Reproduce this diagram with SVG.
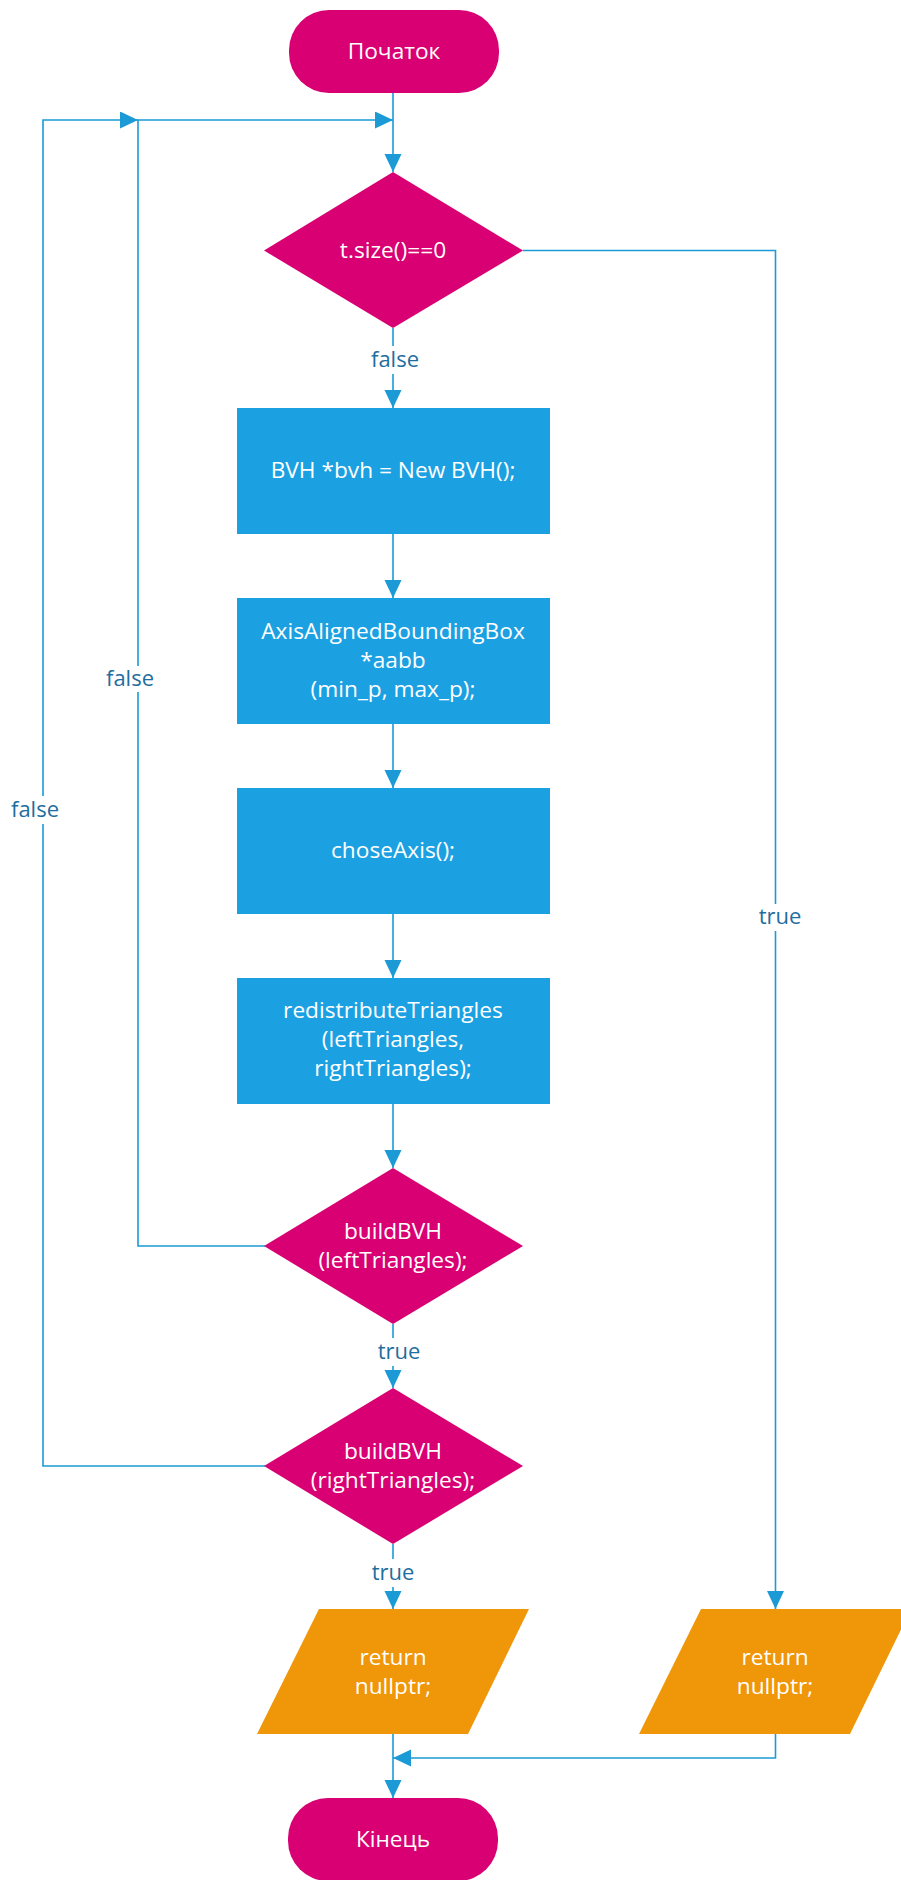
<svg xmlns="http://www.w3.org/2000/svg" width="901" height="1880" viewBox="0 0 901 1880">
<style>
.term{fill:#D80073}
.dec{fill:#D80073}
.proc{fill:#1BA1E2}
.io{fill:#F09609}
.t{font-family:"Open Sans","Noto Sans",sans-serif;font-size:22.7px;fill:#ffffff;text-anchor:middle}
.edge{fill:none;stroke:#1B9AD6;stroke-width:1.6}
.lbl{font-family:"Open Sans","Noto Sans",sans-serif;font-size:22px;fill:#1F6E9E;text-anchor:middle}
.lb{fill:#ffffff}
</style>
<defs>
<marker id="arr" markerUnits="userSpaceOnUse" markerWidth="18" markerHeight="18" refX="18" refY="8.5" orient="auto">
<path d="M0,0 L18,8.5 L0,17 z" fill="#1B9AD6"/>
</marker>
</defs>
<rect width="901" height="1880" fill="#ffffff"/>
<g id="connectors">
<path class="edge" d="M393,93 V172" marker-end="url(#arr)"/>
<path class="edge" d="M393,328 V408" marker-end="url(#arr)"/>
<path class="edge" d="M393,534 V598" marker-end="url(#arr)"/>
<path class="edge" d="M393,724 V788" marker-end="url(#arr)"/>
<path class="edge" d="M393,914 V978" marker-end="url(#arr)"/>
<path class="edge" d="M393,1104 V1168" marker-end="url(#arr)"/>
<path class="edge" d="M393,1324 V1388" marker-end="url(#arr)"/>
<path class="edge" d="M393,1544 V1609" marker-end="url(#arr)"/>
<path class="edge" d="M393,1734 V1798" marker-end="url(#arr)"/>
<path class="edge" d="M523,250.5 H775.5 V1609" marker-end="url(#arr)"/>
<path class="edge" d="M265,1246 H138 V120 H393" marker-end="url(#arr)"/>
<path class="edge" d="M265,1466 H43 V120 H138" marker-end="url(#arr)"/>
<path class="edge" d="M775.5,1734 V1758 H393" marker-end="url(#arr)"/>
<rect class="lb" x="369" y="346" width="52" height="28"/>
<text class="lbl" x="395" y="367">false</text>
<rect class="lb" x="104" y="666" width="52" height="26"/>
<text class="lbl" x="130" y="686">false</text>
<rect class="lb" x="9" y="796" width="52" height="28"/>
<text class="lbl" x="35" y="817">false</text>
<rect class="lb" x="757" y="904" width="46" height="27"/>
<text class="lbl" x="780" y="924">true</text>
<rect class="lb" x="376" y="1338" width="46" height="28"/>
<text class="lbl" x="399" y="1359">true</text>
<rect class="lb" x="370" y="1559" width="46" height="28"/>
<text class="lbl" x="393" y="1580">true</text>
</g>
<g id="start">
<rect class="term" x="289" y="10" width="210" height="83" rx="40" ry="40"/>
<text class="t" x="394" y="59">Початок</text>
</g>
<g id="cond1">
<polygon class="dec" points="393,172 523,250.5 393,328 264,250.5"/>
<text class="t" x="393" y="258">t.size()==0</text>
</g>
<g id="newbvh">
<rect class="proc" x="237" y="408" width="313" height="126"/>
<text class="t" x="393" y="478">BVH *bvh = New BVH();</text>
</g>
<g id="aabb">
<rect class="proc" x="237" y="598" width="313" height="126"/>
<text class="t" x="393" y="639">AxisAlignedBoundingBox</text>
<text class="t" x="393" y="668">*aabb</text>
<text class="t" x="393" y="697">(min_p, max_p);</text>
</g>
<g id="choseaxis">
<rect class="proc" x="237" y="788" width="313" height="126"/>
<text class="t" x="393" y="858">choseAxis();</text>
</g>
<g id="redistribute">
<rect class="proc" x="237" y="978" width="313" height="126"/>
<text class="t" x="393" y="1018">redistributeTriangles</text>
<text class="t" x="393" y="1047">(leftTriangles,</text>
<text class="t" x="393" y="1076">rightTriangles);</text>
</g>
<g id="buildleft">
<polygon class="dec" points="393,1168 523,1246 393,1324 264,1246"/>
<text class="t" x="393" y="1239">buildBVH</text>
<text class="t" x="393" y="1268">(leftTriangles);</text>
</g>
<g id="buildright">
<polygon class="dec" points="393,1388 523,1466 393,1544 264,1466"/>
<text class="t" x="393" y="1459">buildBVH</text>
<text class="t" x="393" y="1488">(rightTriangles);</text>
</g>
<g id="return1">
<polygon class="io" points="319,1609 529,1609 468,1734 257,1734"/>
<text class="t" x="393" y="1665">return</text>
<text class="t" x="393" y="1694">nullptr;</text>
</g>
<g id="return2">
<polygon class="io" points="701,1609 911,1609 850,1734 639,1734"/>
<text class="t" x="775" y="1665">return</text>
<text class="t" x="775" y="1694">nullptr;</text>
</g>
<g id="end">
<rect class="term" x="288" y="1798" width="210" height="83" rx="40" ry="40"/>
<text class="t" x="393" y="1847">Кінець</text>
</g>
</svg>
